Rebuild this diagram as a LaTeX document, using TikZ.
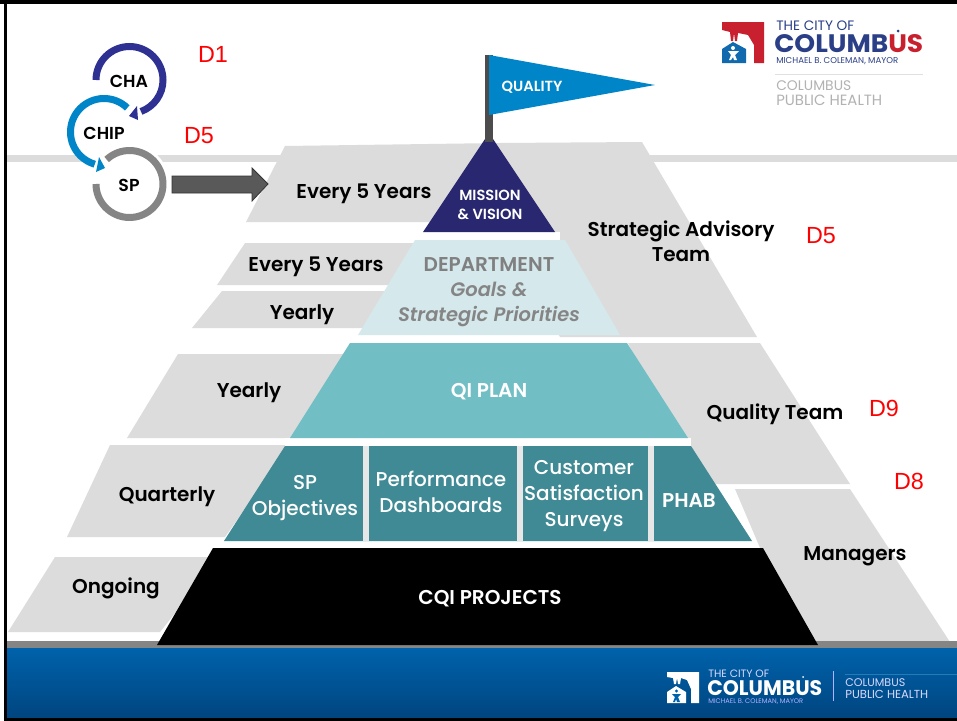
\documentclass[tikz,border=0pt]{standalone}
\usepackage{fontspec}
\usepackage{graphicx}
\setmainfont{Poppins}
\newfontfamily\arialf{Liberation Sans}
\newfontfamily\popb[ItalicFont={Poppins SemiBold Italic}]{Poppins SemiBold}
\newfontfamily\popm{Poppins Medium}
\definecolor{bandgray}{HTML}{DCDCDC}
\definecolor{navy}{HTML}{29276F}
\definecolor{flagblue}{HTML}{0085C8}
\definecolor{palecyan}{HTML}{D5E9ED}
\definecolor{midteal}{HTML}{72BEC5}
\definecolor{darkteal}{HTML}{3F8A94}
\definecolor{ringnavy}{HTML}{2E3192}
\definecolor{ringgray}{HTML}{858585}
\definecolor{logoblue}{HTML}{2B3F87}
\definecolor{logored}{HTML}{C8202F}
\definecolor{foottop}{HTML}{0062AB}
\definecolor{footbot}{HTML}{00457F}
\newcommand{\fitw}[2]{\resizebox{#1\dimexpr 0.75pt\relax}{!}{#2}}
\newcommand{\fitwh}[3]{\resizebox{#1\dimexpr 0.75pt\relax}{#2\dimexpr 0.75pt\relax}{#3}}
\tikzset{
 x=0.75pt,y=-0.75pt,
 band/.style={fill=bandgray,draw=none},
 lbl/.style={font=\popb\fontsize{15}{19}\selectfont,text=black,align=center,inner sep=0pt},
 wlbl/.style={font=\popb\fontsize{15}{19}\selectfont,text=white,align=center,inner sep=0pt},
 redl/.style={font=\arialf\fontsize{17.5}{20}\selectfont,text=red,inner sep=0pt},
 ring/.style={line width=5.25pt,line cap=butt},
 logot/.style={anchor=west,inner sep=0pt,font=\bfseries},
}
\begin{document}
\begin{tikzpicture}
\useasboundingbox (0,0) rectangle (957,721);
\clip (0,0) rectangle (957,721);
\fill[white] (0,0) rectangle (957,721);
% horizontal bands
\fill[band] (6,155) rectangle (957,162);
\fill[band] (285,146) -- (500,143) -- (642,142) -- (757,337) -- (560,337) -- (500,222) -- (246,222) -- cycle;
\fill[band] (245,243) -- (420,243) -- (400,285) -- (217,285) -- cycle;
\fill[band] (222,291) -- (400,291) -- (370,328) -- (192,328) -- cycle;
\fill[band] (178,354) -- (350,354) -- (300,438) -- (127,438) -- cycle;
\fill[band] (628,343) -- (760,343) -- (850,484) -- (700,484) -- cycle;
\fill[band] (110,445) -- (290,445) -- (225,537) -- (67,537) -- cycle;
\fill[band] (735,489) -- (850,489) -- (950,642) -- (800,642) -- cycle;
\fill[band] (55,557) -- (220,557) -- (160,632) -- (8,632) -- cycle;
% white gaps round pyramid levels
\fill[white] (415,232) -- (560,232) -- (560,240) -- (415,240) -- cycle;
% footer
\fill[ringgray] (6,641) rectangle (957,648);
\fill[top color=foottop,bottom color=footbot] (6,648) rectangle (957,718);
% pyramid
\fill[white] (223,541) rectangle (754,548);
\fill[white] (285,438) rectangle (691,446);
\fill[black] (213,548) -- (763,548) -- (818,645) -- (157,645) -- cycle;
\fill[darkteal] (285,446) -- (691,446) -- (752,541) -- (224,541) -- cycle;
\fill[bandgray!70!white] (363,446) rectangle (368.5,541);
\fill[bandgray!70!white] (517,446) rectangle (522.6,541);
\fill[bandgray!70!white] (648,446) rectangle (653.7,541);
\fill[midteal] (350,343) -- (627,343) -- (688,438) -- (290,438) -- cycle;
\fill[palecyan] (415,240) -- (565,240) -- (620,335) -- (358,335) -- cycle;
\fill[navy] (489,133) -- (555,232) -- (423,232) -- cycle;
\fill[black!70] (485,55) rectangle (493,142);
\fill[flagblue] (489,55) -- (655,85) -- (489,115) -- cycle;
% cycle rings: on this flipped y axis a growing angle turns clockwise
\fill[white] (129.5,184) circle (40);
\draw[ring,color=ringgray] (129.5,184) ++(227:33.5) arc[start angle=227,end angle=540,radius=33.5];
\draw[ring,color=ringnavy] (129.5,80) ++(180:33.5) arc[start angle=180,end angle=430,radius=33.5];
\fill[ringnavy] (129,116) -- (137,106) -- (138,120) -- cycle;
\draw[white,line width=6pt] (104,132) ++(314:39) arc[start angle=314,end angle=160,radius=39];
\fill[white] (104,132) ++(-31,12) -- ++(20,27) -- ++(12,-4) -- ++(-10,-30) -- cycle;
\draw[ring,color=flagblue] (104,132) ++(314:33.5) arc[start angle=314,end angle=106,radius=33.5];
\fill[flagblue] (105,168) -- (99,157) -- (96,172) -- cycle;
% block arrow
\draw[fill=black!65,draw=black!80,line width=0.6pt] (172,176) -- (252,176) -- (252,168) -- (268,184) -- (252,201) -- (252,193) -- (172,193) -- cycle;
% labels
\node[redl] (d1) at (213,54) {D1};
\node[redl] (d5a) at (199,136) {D5};
\node[redl] (d5b) at (821,236) {D5};
\node[redl] (d9) at (884,408) {D9};
\node[redl] (d8) at (909,481) {D8};
\node[lbl,font=\popb\fontsize{13}{15}\selectfont] (cha) at (129,81) {CHA};
\node[lbl,font=\popb\fontsize{13}{15}\selectfont] (chip) at (104,133) {CHIP};
\node[lbl,font=\popb\fontsize{13}{15}\selectfont] (sp) at (129,185) {SP};
\node[lbl] (e5a) at (364,194) {Every 5 Years};
\node[lbl] (e5b) at (316,267) {Every 5 Years};
\node[lbl] (y1) at (302,315) {Yearly};
\node[lbl] (y2) at (249,393) {Yearly};
\node[lbl] (q) at (167,497) {Quarterly};
\node[lbl] (on) at (116,588) {Ongoing};
\node[lbl] (sat) at (681,241) {Strategic Advisory\\Team};
\node[lbl] (qt) at (775,414) {Quality Team};
\node[lbl] (mg) at (855,556) {Managers};
\node[wlbl,font=\popb\fontsize{11}{13}\selectfont] (ql) at (532,87) {QUALITY};
\node[wlbl,font=\popb\fontsize{11}{14.5}\selectfont] (mv) at (490,205) {MISSION\\\& VISION};
\node[lbl,text=black!50,font=\popb\fontsize{15}{18}\selectfont] (dep) at (489,265) {DEPARTMENT};
\node[lbl,text=black!48,font=\popb\itshape\fontsize{14.6}{18.8}\selectfont] (gp) at (489,304) {Goals \&\\Strategic Priorities};
\node[wlbl] (qi) at (489,392) {QI PLAN};
\node[wlbl,font=\popm\fontsize{15}{19}\selectfont] (spo) at (305,498) {SP\\Objectives};
\node[wlbl,font=\popm\fontsize{15}{19.5}\selectfont] (pd) at (441,492) {Performance\\Dashboards};
\node[wlbl,font=\popm\fontsize{15}{19.5}\selectfont] (css) at (584,496) {Customer\\Satisfaction\\Surveys};
\node[wlbl] (ph) at (689,501) {PHAB};
\node[wlbl] (cqi) at (490,599) {CQI PROJECTS};
% top logo
\fill[logored] (722,22) -- (764,22) -- (764,63) -- (754,63) -- (754,45) -- (748,35) -- (738,33) -- (737,41) -- (735,41) -- (734,33) -- (733,41) -- (731,41) -- (730,32) -- (722,30) -- cycle;
\fill[flagblue!60!logoblue] (722,63) -- (746,63) -- (746,49) -- (733,42) -- (722,49) -- cycle;
\fill[white] (733,48) circle (2);
\fill[white] (728,51) -- (739,51) -- (735,55) -- (737,60) -- (734,60) -- (733,57) -- (731,60) -- (729,60) -- (731,55) -- cycle;
\node[logot] (lt1) at (776,26) {\fitw{78}{\color{logoblue}\mdseries THE CITY OF}};
\node[logot] (lt2) at (774,44) {\fitwh{149}{18}{\color{logoblue}COLUMB\color{logored}US}};
\fill[logoblue] (898,31) circle (1.5);
\node[logot] (lt3) at (776,61) {\fitw{122}{\color{logoblue}\mdseries MICHAEL B. COLEMAN, MAYOR}};
\coordinate (ll1) at (775,74);
\coordinate (ll2) at (923,74);
\draw[black!12,line width=0.6pt] (ll1) -- (ll2);
\node[logot] (lt4) at (776,86) {\fitw{75}{\color{black!30}\mdseries COLUMBUS}};
\node[logot] (lt5) at (776,100) {\fitw{106}{\color{black!30}\mdseries PUBLIC HEALTH}};
% footer logo
\fill[white] (667,672) -- (699,672) -- (699,703) -- (691,703) -- (691,689) -- (687,680) -- (681,678) -- (680,684) -- (678,684) -- (677,678) -- (676,684) -- (674,684) -- (673,678) -- (667,677) -- cycle;
\fill[white] (667,703) -- (686,703) -- (686,692) -- (676,686) -- (667,692) -- cycle;
\fill[foottop] (676.5,691) circle (1.6);
\fill[foottop] (672,694) -- (681,694) -- (678,697) -- (680,702) -- (677,702) -- (676,699) -- (675,702) -- (673,702) -- (675,697) -- cycle;
\node[logot] (ft1) at (708,674) {\fitw{61}{\color{white!85!blue}\mdseries THE CITY OF}};
\node[logot] (ft2) at (707,688) {\fitwh{115}{15}{\color{white}COLUMBUS}};
\fill[white] (803,677) circle (1);
\node[logot] (ft3) at (708,702) {\fitw{95}{\color{white!70!blue}\mdseries MICHAEL B. COLEMAN, MAYOR}};
\coordinate (fl1) at (833,671);
\coordinate (fl2) at (833,701);
\draw[white!70!blue,line width=0.7pt] (fl1) -- (fl2);
\coordinate (fl3) at (845,674);
\coordinate (fl4) at (957,674);
\draw[white!25!flagblue,line width=0.4pt,opacity=.5] (fl3) -- (fl4);
\node[logot] (ft4) at (845,683) {\fitw{60}{\color{white!85!blue}\mdseries COLUMBUS}};
\begin{scope}
\clip (840,688) rectangle (957,697.5);
\node[logot] (ft5) at (845,694) {\fitw{83}{\color{white!85!blue}\mdseries PUBLIC HEALTH}};
\end{scope}
% slide frame
\fill[black] (0,0) rectangle (957,3.5);
\fill[black] (4,0) rectangle (7,721);
\fill[black] (4,718) rectangle (957,721);
\end{tikzpicture}
\end{document}
